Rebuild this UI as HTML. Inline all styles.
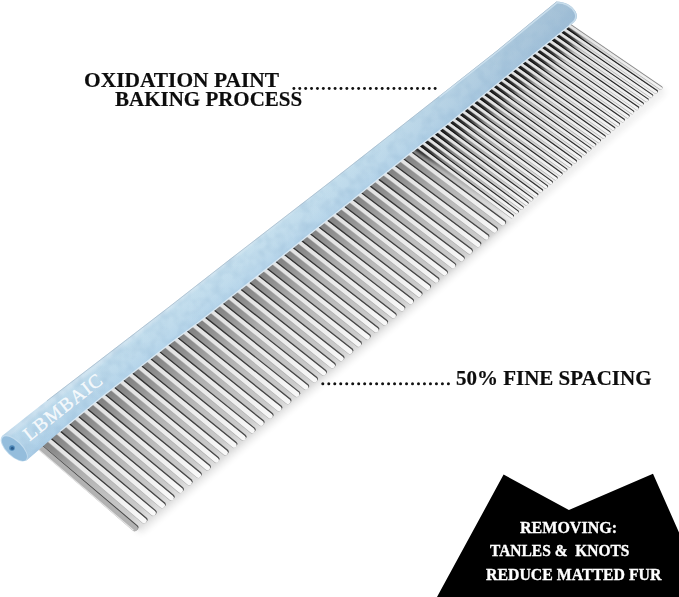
<!DOCTYPE html>
<html><head><meta charset="utf-8"><title>Comb</title>
<style>
html,body{margin:0;padding:0;background:#fff;}
body{width:679px;height:597px;position:relative;overflow:hidden;font-family:"Liberation Serif",serif;}
.t{position:absolute;white-space:nowrap;font-family:"Liberation Serif",serif;font-weight:bold;line-height:1;transform-origin:0 0;}
.k{color:#0d0d0d;font-size:21px;-webkit-text-stroke:0.2px #0d0d0d;}
.w{color:#fff;font-size:16.8px;-webkit-text-stroke:0.35px #fff;}
</style></head><body>
<svg width="679" height="597" viewBox="0 0 679 597" style="position:absolute;left:0;top:0">
<defs>
<linearGradient id="shC" gradientUnits="userSpaceOnUse" x1="304.0" y1="236.5" x2="379.9" y2="332.0"><stop offset="0" stop-color="#808080"/><stop offset="0.15" stop-color="#929292"/><stop offset="0.35" stop-color="#adadad"/><stop offset="0.6" stop-color="#bebebe"/><stop offset="0.9" stop-color="#cbcbcb"/><stop offset="1" stop-color="#dedede"/></linearGradient>
<linearGradient id="shF" gradientUnits="userSpaceOnUse" x1="304.0" y1="236.5" x2="379.9" y2="332.0"><stop offset="0" stop-color="#1a1a1a"/><stop offset="0.1" stop-color="#3a3a3a"/><stop offset="0.22" stop-color="#7c7c7c"/><stop offset="0.4" stop-color="#a6a6a6"/><stop offset="0.6" stop-color="#bcbcbc"/><stop offset="0.8" stop-color="#d2d2d2"/><stop offset="0.94" stop-color="#ececec"/><stop offset="1" stop-color="#fafafa"/></linearGradient>
<linearGradient id="dkC" gradientUnits="userSpaceOnUse" x1="304.0" y1="236.5" x2="379.9" y2="332.0"><stop offset="0" stop-color="#303030"/><stop offset="0.5" stop-color="#3c3c3c"/><stop offset="1" stop-color="#4a4a4a"/></linearGradient>
<linearGradient id="dkF" gradientUnits="userSpaceOnUse" x1="304.0" y1="236.5" x2="379.9" y2="332.0"><stop offset="0" stop-color="#101010"/><stop offset="0.3" stop-color="#1e1e1e"/><stop offset="0.7" stop-color="#2a2a2a"/><stop offset="1" stop-color="#3a3a3a"/></linearGradient>
<linearGradient id="tb" gradientUnits="userSpaceOnUse" x1="304.0" y1="236.5" x2="379.9" y2="332.0"><stop offset="0" stop-color="#e2e2e2"/><stop offset="0.35" stop-color="#e9e9e9"/><stop offset="0.75" stop-color="#f1f1f1"/><stop offset="1" stop-color="#f8f8f8"/></linearGradient>
<linearGradient id="hd" gradientUnits="userSpaceOnUse" x1="300.0" y1="204.0" x2="319.3" y2="228.3"><stop offset="0" stop-color="#d3e6f1"/><stop offset="0.12" stop-color="#c3deed"/><stop offset="0.5" stop-color="#bfdbec"/><stop offset="0.85" stop-color="#b6d5ea"/><stop offset="1" stop-color="#adcde5"/></linearGradient>
<linearGradient id="hl" gradientUnits="userSpaceOnUse" x1="0.0" y1="460.0" x2="580.0" y2="0.0"><stop offset="0" stop-color="#7fb0dc" stop-opacity="0.16"/><stop offset="0.14" stop-color="#7fb0dc" stop-opacity="0.05"/><stop offset="0.45" stop-color="#ffffff" stop-opacity="0.03"/><stop offset="0.68" stop-color="#7695b7" stop-opacity="0.04"/><stop offset="0.85" stop-color="#708fb0" stop-opacity="0.22"/><stop offset="1" stop-color="#708fb0" stop-opacity="0.38"/></linearGradient>
<linearGradient id="farL" gradientUnits="userSpaceOnUse" x1="451.4" y1="198.6" x2="607.8" y2="74.4"><stop offset="0" stop-color="#ffffff" stop-opacity="0.0"/><stop offset="0.35" stop-color="#ffffff" stop-opacity="0.25"/><stop offset="1" stop-color="#ffffff" stop-opacity="0.7"/></linearGradient>
<filter id="bl2" x="-10%" y="-10%" width="120%" height="120%"><feGaussianBlur stdDeviation="5"/></filter>
<filter id="bl3" x="-10%" y="-10%" width="120%" height="120%"><feGaussianBlur stdDeviation="3.5"/></filter>
<filter id="bl" x="-5%" y="-5%" width="110%" height="110%"><feGaussianBlur stdDeviation="1.4"/></filter>
<filter id="tx" x="0" y="0" width="100%" height="100%"><feTurbulence type="fractalNoise" baseFrequency="0.09" numOctaves="2" seed="7" result="n"/><feColorMatrix in="n" type="matrix" values="0 0 0 0 0.28  0 0 0 0 0.46  0 0 0 0 0.64  1.3 0 0 0 -0.52" result="c"/><feComposite in="c" in2="SourceGraphic" operator="in"/></filter>
</defs>
<polygon points="134.0,527.4 151.5,512.7 169.0,498.1 186.5,483.4 204.0,468.7 221.5,454.0 239.0,439.4 256.7,425.0 274.4,410.6 292.2,396.2 309.9,381.9 327.7,367.6 345.5,353.3 363.1,338.8 380.8,324.3 398.4,309.9 416.1,295.4 433.5,280.6 450.9,265.8 468.3,251.0 485.6,236.0 502.9,221.1 520.2,206.1 537.5,191.2 554.8,176.2 572.1,161.3 589.4,146.3 606.7,131.4 624.0,116.5 641.4,101.6 658.7,86.7 666.1,91.8 648.8,106.8 631.4,121.7 614.1,136.6 596.7,151.6 579.4,166.5 562.1,181.5 544.7,196.5 527.4,211.5 510.1,226.5 492.8,241.4 475.4,256.4 458.1,271.3 440.6,286.1 423.2,300.9 405.5,315.4 387.8,329.9 370.2,344.4 352.5,358.9 334.7,373.2 316.9,387.6 299.2,401.9 281.4,416.3 263.7,430.7 246.0,445.1 228.4,459.7 210.9,474.4 193.4,489.1 175.8,503.8 158.3,518.5 140.8,533.2" fill="#000" opacity="0.10" filter="url(#bl3)"/>
<polygon points="38.4,444.8 411.7,148.4 509.8,221.6 494.5,234.8 479.3,247.9 464.0,261.1 448.7,274.1 433.4,287.2 418.0,300.1 402.4,312.9 386.9,325.6 371.4,338.4 355.8,351.1 340.2,363.8 324.6,376.4 308.9,389.0 293.3,401.6 277.7,414.3 262.1,427.0 246.5,439.7 231.0,452.4 215.6,465.4 200.2,478.3 184.8,491.2 169.4,504.1 153.9,517.1 138.5,530.0" fill="url(#shC)" filter="url(#bl)"/>
<polygon points="411.7,148.4 567.0,25.0 662.1,90.2 655.7,95.7 649.4,101.2 643.0,106.6 636.7,112.1 630.3,117.5 623.9,123.0 617.6,128.5 611.2,133.9 604.9,139.4 598.5,144.9 592.2,150.3 585.8,155.8 579.5,161.3 573.2,166.8 566.8,172.2 560.5,177.7 554.1,183.2 547.8,188.7 541.5,194.2 535.1,199.7 528.8,205.1 522.4,210.6 516.1,216.1 509.8,221.6" fill="url(#shF)" filter="url(#bl)"/>
<polygon points="431.1,162.9 440.8,155.0 450.6,147.2 460.3,139.3 470.0,131.5 479.7,123.6 489.4,115.8 499.2,107.9 508.9,100.1 518.6,92.2 528.3,84.4 538.0,76.5 547.8,68.7 557.5,60.9 567.2,53.0 576.9,45.2 586.6,37.3 664.5,90.7 654.9,98.9 645.3,107.2 635.7,115.4 626.2,123.7 616.6,131.9 607.0,140.1 597.4,148.4 587.8,156.6 578.3,164.9 568.7,173.2 559.2,181.4 549.6,189.7 540.0,198.0 530.5,206.2 520.9,214.5 511.4,222.8" fill="url(#farL)" filter="url(#bl2)"/>
<g fill="url(#dkC)"><path d="M38.96,443.80L136.68,525.98A2.85,2.85 0 0 1 132.98,530.32L36.24,447.00Z" transform="translate(0.71,-0.84)"/><path d="M48.16,436.50L145.79,518.34A2.84,2.84 0 0 1 142.11,522.68L45.45,439.69Z" transform="translate(0.71,-0.84)"/><path d="M57.33,429.21L154.88,510.72A2.84,2.84 0 0 1 151.21,515.06L54.63,432.40Z" transform="translate(0.71,-0.84)"/><path d="M66.49,421.93L163.95,503.12A2.83,2.83 0 0 1 160.30,507.45L63.80,425.12Z" transform="translate(0.71,-0.84)"/><path d="M75.63,414.67L173.00,495.53A2.83,2.83 0 0 1 169.37,499.86L72.95,417.86Z" transform="translate(0.71,-0.84)"/><path d="M84.75,407.43L182.04,487.96A2.82,2.82 0 0 1 178.41,492.28L82.08,410.62Z" transform="translate(0.71,-0.84)"/><path d="M93.84,400.20L191.05,480.40A2.82,2.82 0 0 1 187.44,484.72L91.18,403.39Z" transform="translate(0.71,-0.84)"/><path d="M102.92,392.99L200.04,472.86A2.81,2.81 0 0 1 196.45,477.18L100.27,396.17Z" transform="translate(0.70,-0.85)"/><path d="M111.98,385.80L209.02,465.34A2.80,2.80 0 0 1 205.44,469.65L109.34,388.98Z" transform="translate(0.70,-0.85)"/><path d="M121.02,378.62L217.97,457.83A2.80,2.80 0 0 1 214.41,462.14L118.39,381.79Z" transform="translate(0.70,-0.85)"/><path d="M130.04,371.45L226.91,450.34A2.79,2.79 0 0 1 223.36,454.65L127.42,374.63Z" transform="translate(0.70,-0.85)"/><path d="M139.04,364.30L235.82,442.86A2.79,2.79 0 0 1 232.29,447.17L136.43,367.48Z" transform="translate(0.70,-0.85)"/><path d="M148.02,357.17L244.82,435.54A2.78,2.78 0 0 1 241.30,439.84L145.42,360.34Z" transform="translate(0.70,-0.85)"/><path d="M156.98,350.05L253.81,428.24A2.77,2.77 0 0 1 250.29,432.54L154.39,353.22Z" transform="translate(0.70,-0.85)"/><path d="M165.93,342.95L262.77,420.96A2.77,2.77 0 0 1 259.27,425.25L163.35,346.11Z" transform="translate(0.70,-0.85)"/><path d="M174.85,335.86L271.72,413.69A2.76,2.76 0 0 1 268.23,417.98L172.28,339.02Z" transform="translate(0.69,-0.85)"/><path d="M183.75,328.79L280.64,406.44A2.76,2.76 0 0 1 277.17,410.72L181.19,331.95Z" transform="translate(0.69,-0.85)"/><path d="M192.64,321.73L289.55,399.20A2.75,2.75 0 0 1 286.09,403.48L190.08,324.89Z" transform="translate(0.69,-0.86)"/><path d="M201.50,314.69L298.45,391.99A2.75,2.75 0 0 1 295.00,396.27L198.96,317.84Z" transform="translate(0.69,-0.86)"/><path d="M210.35,307.66L307.35,384.83A2.74,2.74 0 0 1 303.91,389.10L207.81,310.81Z" transform="translate(0.69,-0.86)"/><path d="M219.18,300.65L316.23,377.68A2.74,2.74 0 0 1 312.80,381.94L216.65,303.80Z" transform="translate(0.69,-0.86)"/><path d="M227.99,293.65L325.09,370.54A2.73,2.73 0 0 1 321.67,374.80L225.47,296.80Z" transform="translate(0.69,-0.86)"/><path d="M236.78,286.67L333.93,363.42A2.72,2.72 0 0 1 330.53,367.68L234.27,289.81Z" transform="translate(0.69,-0.86)"/><path d="M245.55,279.71L342.75,356.32A2.72,2.72 0 0 1 339.36,360.57L243.05,282.84Z" transform="translate(0.69,-0.86)"/><path d="M254.30,272.76L351.53,349.20A2.71,2.71 0 0 1 348.15,353.45L251.81,275.89Z" transform="translate(0.68,-0.86)"/><path d="M263.03,265.82L360.25,342.05A2.71,2.71 0 0 1 356.89,346.29L260.55,268.95Z" transform="translate(0.68,-0.86)"/><path d="M271.74,258.90L368.96,334.91A2.70,2.70 0 0 1 365.61,339.15L269.27,262.02Z" transform="translate(0.68,-0.86)"/><path d="M280.44,251.99L377.65,327.79A2.70,2.70 0 0 1 374.31,332.02L277.98,255.12Z" transform="translate(0.68,-0.86)"/><path d="M289.12,245.10L386.32,320.68A2.69,2.69 0 0 1 382.99,324.91L286.66,248.22Z" transform="translate(0.68,-0.86)"/><path d="M297.77,238.22L394.97,313.59A2.69,2.69 0 0 1 391.65,317.81L295.33,241.34Z" transform="translate(0.68,-0.87)"/><path d="M306.41,231.36L403.60,306.51A2.68,2.68 0 0 1 400.30,310.73L303.98,234.48Z" transform="translate(0.68,-0.87)"/><path d="M315.03,224.52L412.21,299.45A2.67,2.67 0 0 1 408.92,303.67L312.60,227.63Z" transform="translate(0.68,-0.87)"/><path d="M323.63,217.68L420.81,292.41A2.67,2.67 0 0 1 417.53,296.62L321.21,220.79Z" transform="translate(0.68,-0.87)"/><path d="M332.22,210.87L429.28,285.24A2.66,2.66 0 0 1 426.02,289.45L329.81,213.97Z" transform="translate(0.67,-0.87)"/><path d="M340.78,204.06L437.71,278.06A2.66,2.66 0 0 1 434.46,282.27L338.38,207.17Z" transform="translate(0.67,-0.87)"/><path d="M349.32,197.27L446.13,270.90A2.65,2.65 0 0 1 442.90,275.10L346.94,200.38Z" transform="translate(0.67,-0.87)"/><path d="M357.85,190.50L454.53,263.75A2.65,2.65 0 0 1 451.31,267.95L355.47,193.60Z" transform="translate(0.67,-0.87)"/><path d="M366.36,183.74L462.91,256.61A2.64,2.64 0 0 1 459.70,260.81L363.99,186.84Z" transform="translate(0.67,-0.87)"/><path d="M374.85,177.00L471.23,249.44A2.64,2.64 0 0 1 468.04,253.64L372.49,180.09Z" transform="translate(0.67,-0.88)"/><path d="M383.32,170.27L479.53,242.28A2.63,2.63 0 0 1 476.36,246.48L380.98,173.36Z" transform="translate(0.66,-0.88)"/><path d="M391.78,163.55L487.81,235.14A2.63,2.63 0 0 1 484.65,239.33L389.44,166.64Z" transform="translate(0.66,-0.88)"/><path d="M400.21,156.85L496.08,228.00A2.62,2.62 0 0 1 492.93,232.19L397.89,159.94Z" transform="translate(0.66,-0.88)"/><path d="M408.63,150.16L504.32,220.89A2.61,2.61 0 0 1 501.19,225.08L406.31,153.25Z" transform="translate(0.66,-0.88)"/></g>
<g fill="url(#dkF)"><path d="M416.78,143.82L512.74,215.12A1.65,1.65 0 0 1 510.77,217.77L414.97,146.25Z" transform="translate(0.54,-0.72)"/><path d="M421.77,139.85L517.63,210.89A1.65,1.65 0 0 1 515.66,213.54L419.97,142.28Z" transform="translate(0.54,-0.72)"/><path d="M426.76,135.89L522.51,206.67A1.65,1.65 0 0 1 520.55,209.32L424.96,138.32Z" transform="translate(0.54,-0.72)"/><path d="M431.74,131.93L527.39,202.45A1.65,1.65 0 0 1 525.43,205.10L429.95,134.36Z" transform="translate(0.53,-0.72)"/><path d="M436.72,127.98L532.26,198.24A1.65,1.65 0 0 1 530.31,200.89L434.92,130.41Z" transform="translate(0.53,-0.72)"/><path d="M441.68,124.04L537.13,194.04A1.64,1.64 0 0 1 535.18,196.68L439.90,126.47Z" transform="translate(0.53,-0.73)"/><path d="M446.64,120.09L541.98,189.84A1.64,1.64 0 0 1 540.04,192.48L444.86,122.52Z" transform="translate(0.53,-0.73)"/><path d="M451.60,116.16L546.84,185.64A1.64,1.64 0 0 1 544.90,188.29L449.82,118.59Z" transform="translate(0.53,-0.73)"/><path d="M456.55,112.23L551.68,181.45A1.64,1.64 0 0 1 549.75,184.10L454.78,114.65Z" transform="translate(0.53,-0.73)"/><path d="M461.49,108.30L556.52,177.27A1.64,1.64 0 0 1 554.60,179.91L459.73,110.73Z" transform="translate(0.53,-0.73)"/><path d="M466.43,104.38L561.35,173.09A1.63,1.63 0 0 1 559.43,175.73L464.67,106.81Z" transform="translate(0.53,-0.73)"/><path d="M471.36,100.46L566.18,168.91A1.63,1.63 0 0 1 564.27,171.56L469.60,102.89Z" transform="translate(0.53,-0.73)"/><path d="M476.28,96.55L571.00,164.75A1.63,1.63 0 0 1 569.09,167.39L474.53,98.98Z" transform="translate(0.53,-0.73)"/><path d="M481.20,92.65L575.81,160.58A1.63,1.63 0 0 1 573.91,163.22L479.45,95.07Z" transform="translate(0.53,-0.73)"/><path d="M486.11,88.75L580.62,156.42A1.63,1.63 0 0 1 578.73,159.07L484.37,91.17Z" transform="translate(0.52,-0.73)"/><path d="M491.01,84.85L585.43,152.28A1.62,1.62 0 0 1 583.54,154.92L489.28,87.27Z" transform="translate(0.52,-0.73)"/><path d="M495.91,80.96L590.23,148.15A1.62,1.62 0 0 1 588.35,150.79L494.18,83.38Z" transform="translate(0.52,-0.73)"/><path d="M500.80,77.07L595.03,144.02A1.62,1.62 0 0 1 593.15,146.66L499.08,79.50Z" transform="translate(0.52,-0.73)"/><path d="M505.69,73.19L599.83,139.90A1.62,1.62 0 0 1 597.95,142.53L503.97,75.61Z" transform="translate(0.52,-0.73)"/><path d="M510.56,69.32L604.61,135.78A1.62,1.62 0 0 1 602.75,138.42L508.85,71.74Z" transform="translate(0.52,-0.73)"/><path d="M515.44,65.45L609.40,131.67A1.61,1.61 0 0 1 607.53,134.30L513.73,67.87Z" transform="translate(0.52,-0.74)"/><path d="M520.30,61.58L614.17,127.56A1.61,1.61 0 0 1 612.31,130.20L518.60,64.00Z" transform="translate(0.52,-0.74)"/><path d="M525.16,57.72L618.94,123.46A1.61,1.61 0 0 1 617.09,126.09L523.47,60.14Z" transform="translate(0.52,-0.74)"/><path d="M530.02,53.86L623.70,119.36A1.61,1.61 0 0 1 621.86,122.00L528.32,56.28Z" transform="translate(0.52,-0.74)"/><path d="M534.87,50.01L628.46,115.27A1.61,1.61 0 0 1 626.62,117.91L533.18,52.43Z" transform="translate(0.52,-0.74)"/><path d="M539.71,46.17L633.21,111.19A1.61,1.61 0 0 1 631.38,113.82L538.02,48.58Z" transform="translate(0.51,-0.74)"/><path d="M544.54,42.33L637.96,107.11A1.60,1.60 0 0 1 636.13,109.74L542.86,44.74Z" transform="translate(0.51,-0.74)"/><path d="M549.37,38.49L642.69,103.03A1.60,1.60 0 0 1 640.87,105.66L547.70,40.90Z" transform="translate(0.51,-0.74)"/><path d="M554.20,34.66L647.43,98.96A1.60,1.60 0 0 1 645.61,101.59L552.53,37.07Z" transform="translate(0.51,-0.74)"/><path d="M559.01,30.83L652.15,94.90A1.60,1.60 0 0 1 650.34,97.53L557.35,33.25Z" transform="translate(0.51,-0.74)"/><path d="M563.82,27.01L656.87,90.84A1.60,1.60 0 0 1 655.06,93.47L562.16,29.42Z" transform="translate(0.51,-0.74)"/></g>
<path d="M568.63,23.19L661.59,86.78A1.59,1.59 0 0 1 659.78,89.41L566.97,25.61Z" fill="#8c8c8c" transform="translate(0.34,-0.49)"/>
<g fill="#b0b0b0"><path d="M38.86,443.92L136.69,526.19A2.70,2.70 0 0 1 133.19,530.31L36.34,446.88Z" transform="translate(-0.32,0.38)"/><path d="M48.06,436.61L145.81,518.56A2.69,2.69 0 0 1 142.32,522.66L45.54,439.58Z" transform="translate(-0.32,0.38)"/><path d="M57.24,429.32L154.90,510.93A2.69,2.69 0 0 1 151.42,515.04L54.73,432.28Z" transform="translate(-0.32,0.38)"/><path d="M66.39,422.05L163.97,503.33A2.68,2.68 0 0 1 160.51,507.43L63.90,425.01Z" transform="translate(-0.32,0.38)"/><path d="M75.53,414.79L173.02,495.74A2.68,2.68 0 0 1 169.58,499.84L73.04,417.75Z" transform="translate(-0.32,0.38)"/><path d="M84.65,407.55L182.05,488.17A2.67,2.67 0 0 1 178.62,492.26L82.17,410.50Z" transform="translate(-0.32,0.38)"/><path d="M93.75,400.32L191.07,480.61A2.67,2.67 0 0 1 187.65,484.70L91.28,403.27Z" transform="translate(-0.32,0.38)"/><path d="M102.83,393.11L200.06,473.07A2.66,2.66 0 0 1 196.66,477.16L100.37,396.06Z" transform="translate(-0.32,0.38)"/><path d="M111.88,385.91L209.04,465.55A2.65,2.65 0 0 1 205.65,469.63L109.44,388.86Z" transform="translate(-0.32,0.38)"/><path d="M120.92,378.73L217.99,458.04A2.65,2.65 0 0 1 214.62,462.12L118.49,381.68Z" transform="translate(-0.32,0.39)"/><path d="M129.94,371.57L226.93,450.55A2.64,2.64 0 0 1 223.57,454.63L127.52,374.51Z" transform="translate(-0.32,0.39)"/><path d="M138.94,364.42L235.84,443.08A2.64,2.64 0 0 1 232.50,447.15L136.53,367.36Z" transform="translate(-0.32,0.39)"/><path d="M147.93,357.28L244.84,435.75A2.63,2.63 0 0 1 241.51,439.82L145.52,360.22Z" transform="translate(-0.32,0.39)"/><path d="M156.89,350.17L253.83,428.45A2.62,2.62 0 0 1 250.50,432.52L154.49,353.10Z" transform="translate(-0.32,0.39)"/><path d="M165.83,343.06L262.79,421.17A2.62,2.62 0 0 1 259.48,425.23L163.44,346.00Z" transform="translate(-0.32,0.39)"/><path d="M174.75,335.98L271.74,413.90A2.61,2.61 0 0 1 268.44,417.95L172.37,338.90Z" transform="translate(-0.32,0.39)"/><path d="M183.66,328.90L280.66,406.65A2.61,2.61 0 0 1 277.38,410.70L181.29,331.83Z" transform="translate(-0.31,0.39)"/><path d="M192.54,321.85L289.57,399.41A2.60,2.60 0 0 1 286.30,403.46L190.18,324.77Z" transform="translate(-0.31,0.39)"/><path d="M201.41,314.80L298.47,392.20A2.60,2.60 0 0 1 295.21,396.25L199.05,317.72Z" transform="translate(-0.31,0.39)"/><path d="M210.26,307.78L307.37,385.04A2.59,2.59 0 0 1 304.12,389.07L207.91,310.69Z" transform="translate(-0.31,0.39)"/><path d="M219.08,300.77L316.25,377.89A2.59,2.59 0 0 1 313.01,381.92L216.75,303.68Z" transform="translate(-0.31,0.39)"/><path d="M227.89,293.77L325.11,370.75A2.58,2.58 0 0 1 321.88,374.78L225.56,296.68Z" transform="translate(-0.31,0.39)"/><path d="M236.68,286.79L333.95,363.63A2.57,2.57 0 0 1 330.74,367.65L234.36,289.69Z" transform="translate(-0.31,0.39)"/><path d="M245.45,279.82L342.77,356.53A2.57,2.57 0 0 1 339.57,360.55L243.14,282.73Z" transform="translate(-0.31,0.39)"/><path d="M254.20,272.87L351.55,349.41A2.56,2.56 0 0 1 348.36,353.42L251.90,275.77Z" transform="translate(-0.31,0.39)"/><path d="M262.94,265.94L360.28,342.26A2.56,2.56 0 0 1 357.10,346.26L260.64,268.83Z" transform="translate(-0.31,0.39)"/><path d="M271.65,259.02L368.99,335.12A2.55,2.55 0 0 1 365.82,339.12L269.36,261.91Z" transform="translate(-0.31,0.39)"/><path d="M280.35,252.11L377.67,328.00A2.55,2.55 0 0 1 374.52,332.00L278.07,255.00Z" transform="translate(-0.31,0.39)"/><path d="M289.02,245.22L386.34,320.89A2.54,2.54 0 0 1 383.20,324.88L286.75,248.10Z" transform="translate(-0.31,0.39)"/><path d="M297.68,238.34L394.99,313.80A2.54,2.54 0 0 1 391.86,317.79L295.42,241.22Z" transform="translate(-0.31,0.39)"/><path d="M306.32,231.48L403.62,306.72A2.53,2.53 0 0 1 400.51,310.71L304.07,234.36Z" transform="translate(-0.31,0.39)"/><path d="M314.94,224.63L412.24,299.66A2.52,2.52 0 0 1 409.13,303.64L312.70,227.51Z" transform="translate(-0.31,0.39)"/><path d="M323.54,217.80L420.83,292.62A2.52,2.52 0 0 1 417.74,296.59L321.31,220.67Z" transform="translate(-0.31,0.39)"/><path d="M332.12,210.98L429.31,285.45A2.51,2.51 0 0 1 426.23,289.42L329.90,213.85Z" transform="translate(-0.31,0.40)"/><path d="M340.69,204.18L437.74,278.27A2.51,2.51 0 0 1 434.68,282.24L338.47,207.05Z" transform="translate(-0.31,0.40)"/><path d="M349.23,197.39L446.16,271.11A2.50,2.50 0 0 1 443.11,275.07L347.03,200.26Z" transform="translate(-0.30,0.40)"/><path d="M357.76,190.62L454.56,263.96A2.50,2.50 0 0 1 451.52,267.92L355.57,193.48Z" transform="translate(-0.30,0.40)"/><path d="M366.27,183.86L462.94,256.82A2.49,2.49 0 0 1 459.91,260.78L364.08,186.72Z" transform="translate(-0.30,0.40)"/><path d="M374.76,177.12L471.26,249.66A2.49,2.49 0 0 1 468.25,253.61L372.59,179.97Z" transform="translate(-0.30,0.40)"/><path d="M383.23,170.39L479.56,242.49A2.48,2.48 0 0 1 476.57,246.45L381.07,173.24Z" transform="translate(-0.30,0.40)"/><path d="M391.68,163.67L487.84,235.35A2.48,2.48 0 0 1 484.86,239.30L389.53,166.52Z" transform="translate(-0.30,0.40)"/><path d="M400.12,156.97L496.11,228.21A2.47,2.47 0 0 1 493.14,232.16L397.98,159.82Z" transform="translate(-0.30,0.40)"/><path d="M408.54,150.28L504.35,221.10A2.46,2.46 0 0 1 501.40,225.05L406.40,153.13Z" transform="translate(-0.30,0.40)"/><path d="M416.69,143.94L512.77,215.33A1.50,1.50 0 0 1 510.98,217.74L415.06,146.13Z" transform="translate(-0.30,0.40)"/><path d="M421.68,139.97L517.66,211.10A1.50,1.50 0 0 1 515.87,213.51L420.06,142.16Z" transform="translate(-0.30,0.40)"/><path d="M426.67,136.01L522.55,206.88A1.50,1.50 0 0 1 520.76,209.29L425.05,138.20Z" transform="translate(-0.30,0.40)"/><path d="M431.65,132.05L527.42,202.66A1.50,1.50 0 0 1 525.64,205.07L430.03,134.24Z" transform="translate(-0.30,0.40)"/><path d="M436.63,128.10L532.29,198.45A1.50,1.50 0 0 1 530.52,200.86L435.01,130.29Z" transform="translate(-0.30,0.40)"/><path d="M441.59,124.16L537.16,194.25A1.49,1.49 0 0 1 535.39,196.65L439.99,126.34Z" transform="translate(-0.30,0.40)"/><path d="M446.56,120.22L542.02,190.05A1.49,1.49 0 0 1 540.25,192.45L444.95,122.40Z" transform="translate(-0.30,0.40)"/><path d="M451.51,116.28L546.87,185.85A1.49,1.49 0 0 1 545.11,188.25L449.91,118.47Z" transform="translate(-0.30,0.40)"/><path d="M456.46,112.35L551.71,181.66A1.49,1.49 0 0 1 549.96,184.06L454.87,114.53Z" transform="translate(-0.29,0.40)"/><path d="M461.40,108.42L556.55,177.48A1.49,1.49 0 0 1 554.81,179.88L459.81,110.61Z" transform="translate(-0.29,0.40)"/><path d="M466.34,104.50L561.39,173.30A1.48,1.48 0 0 1 559.64,175.70L464.75,106.69Z" transform="translate(-0.29,0.40)"/><path d="M471.27,100.59L566.21,169.12A1.48,1.48 0 0 1 564.48,171.52L469.69,102.77Z" transform="translate(-0.29,0.41)"/><path d="M476.19,96.68L571.03,164.95A1.48,1.48 0 0 1 569.30,167.35L474.62,98.86Z" transform="translate(-0.29,0.41)"/><path d="M481.11,92.77L575.85,160.79A1.48,1.48 0 0 1 574.12,163.19L479.54,94.95Z" transform="translate(-0.29,0.41)"/><path d="M486.02,88.87L580.66,156.63A1.48,1.48 0 0 1 578.94,159.03L484.45,91.05Z" transform="translate(-0.29,0.41)"/><path d="M490.92,84.97L585.46,152.49A1.47,1.47 0 0 1 583.75,154.88L489.36,87.15Z" transform="translate(-0.29,0.41)"/><path d="M495.82,81.08L590.27,148.35A1.47,1.47 0 0 1 588.56,150.75L494.27,83.26Z" transform="translate(-0.29,0.41)"/><path d="M500.71,77.20L595.07,144.23A1.47,1.47 0 0 1 593.36,146.62L499.16,79.37Z" transform="translate(-0.29,0.41)"/><path d="M505.60,73.32L599.86,140.10A1.47,1.47 0 0 1 598.16,142.50L504.05,75.49Z" transform="translate(-0.29,0.41)"/><path d="M510.48,69.44L604.65,135.99A1.47,1.47 0 0 1 602.96,138.38L508.94,71.62Z" transform="translate(-0.29,0.41)"/><path d="M515.35,65.57L609.43,131.88A1.46,1.46 0 0 1 607.74,134.27L513.81,67.74Z" transform="translate(-0.29,0.41)"/><path d="M520.22,61.70L614.21,127.77A1.46,1.46 0 0 1 612.52,130.16L518.69,63.88Z" transform="translate(-0.29,0.41)"/><path d="M525.08,57.84L618.98,123.67A1.46,1.46 0 0 1 617.30,126.06L523.55,60.02Z" transform="translate(-0.29,0.41)"/><path d="M529.93,53.99L623.74,119.57A1.46,1.46 0 0 1 622.07,121.96L528.41,56.16Z" transform="translate(-0.29,0.41)"/><path d="M534.78,50.14L628.50,115.48A1.46,1.46 0 0 1 626.83,117.87L533.26,52.31Z" transform="translate(-0.29,0.41)"/><path d="M539.62,46.29L633.25,111.40A1.46,1.46 0 0 1 631.58,113.78L538.11,48.46Z" transform="translate(-0.29,0.41)"/><path d="M544.46,42.45L637.99,107.32A1.45,1.45 0 0 1 636.33,109.70L542.95,44.62Z" transform="translate(-0.29,0.41)"/><path d="M549.29,38.61L642.73,103.24A1.45,1.45 0 0 1 641.08,105.63L547.78,40.78Z" transform="translate(-0.28,0.41)"/><path d="M554.11,34.78L647.46,99.17A1.45,1.45 0 0 1 645.82,101.55L552.61,36.95Z" transform="translate(-0.28,0.41)"/><path d="M558.93,30.96L652.19,95.11A1.45,1.45 0 0 1 650.55,97.49L557.43,33.12Z" transform="translate(-0.28,0.41)"/><path d="M563.74,27.13L656.91,91.05A1.45,1.45 0 0 1 655.27,93.43L562.25,29.30Z" transform="translate(-0.28,0.41)"/><path d="M568.54,23.32L661.63,86.99A1.44,1.44 0 0 1 659.99,89.37L567.06,25.48Z" transform="translate(-0.28,0.41)"/></g>
<g fill="url(#tb)"><path d="M48.00,436.69L145.82,518.70A2.59,2.59 0 0 1 142.46,522.65L45.61,439.50Z"/><path d="M57.17,429.40L154.91,511.08A2.59,2.59 0 0 1 151.57,515.03L54.79,432.21Z"/><path d="M66.33,422.12L163.98,503.47A2.58,2.58 0 0 1 160.65,507.42L63.96,424.93Z"/><path d="M75.47,414.86L173.03,495.88A2.58,2.58 0 0 1 169.72,499.83L73.11,417.67Z"/><path d="M84.59,407.62L182.07,488.31A2.57,2.57 0 0 1 178.77,492.25L82.24,410.43Z"/><path d="M93.68,400.40L191.08,480.75A2.57,2.57 0 0 1 187.79,484.69L91.34,403.20Z"/><path d="M102.76,393.18L200.07,473.21A2.56,2.56 0 0 1 196.80,477.15L100.43,395.98Z"/><path d="M111.82,385.99L209.05,465.69A2.55,2.55 0 0 1 205.79,469.62L109.50,388.78Z"/><path d="M120.86,378.81L218.01,458.18A2.55,2.55 0 0 1 214.76,462.11L118.55,381.60Z"/><path d="M129.88,371.64L226.94,450.69A2.54,2.54 0 0 1 223.71,454.61L127.58,374.43Z"/><path d="M138.88,364.49L235.86,443.22A2.54,2.54 0 0 1 232.64,447.14L136.59,367.28Z"/><path d="M147.86,357.36L244.86,435.89A2.53,2.53 0 0 1 241.65,439.81L145.58,360.15Z"/><path d="M156.82,350.24L253.84,428.59A2.52,2.52 0 0 1 250.64,432.50L154.55,353.02Z"/><path d="M165.77,343.14L262.81,421.31A2.52,2.52 0 0 1 259.62,425.21L163.50,345.92Z"/><path d="M174.69,336.05L271.75,414.04A2.51,2.51 0 0 1 268.58,417.94L172.44,338.83Z"/><path d="M183.60,328.98L280.68,406.79A2.51,2.51 0 0 1 277.52,410.68L181.35,331.75Z"/><path d="M192.48,321.92L289.59,399.55A2.50,2.50 0 0 1 286.44,403.44L190.24,324.69Z"/><path d="M201.35,314.88L298.49,392.34A2.50,2.50 0 0 1 295.35,396.23L199.12,317.65Z"/><path d="M210.19,307.86L307.39,385.18A2.49,2.49 0 0 1 304.26,389.06L207.97,310.62Z"/><path d="M219.02,300.85L316.27,378.03A2.49,2.49 0 0 1 313.15,381.90L216.81,303.60Z"/><path d="M227.83,293.85L325.13,370.89A2.48,2.48 0 0 1 322.02,374.76L225.62,296.60Z"/><path d="M236.62,286.87L333.97,363.77A2.47,2.47 0 0 1 330.88,367.64L234.42,289.62Z"/><path d="M245.39,279.90L342.79,356.67A2.47,2.47 0 0 1 339.71,360.53L243.20,282.65Z"/><path d="M254.14,272.95L351.57,349.55A2.46,2.46 0 0 1 348.50,353.41L251.96,275.69Z"/><path d="M262.88,266.02L360.30,342.40A2.46,2.46 0 0 1 357.24,346.25L260.70,268.75Z"/><path d="M271.59,259.10L369.00,335.26A2.45,2.45 0 0 1 365.96,339.11L269.43,261.83Z"/><path d="M280.28,252.19L377.69,328.14A2.45,2.45 0 0 1 374.66,331.98L278.13,254.92Z"/><path d="M288.96,245.30L386.36,321.03A2.44,2.44 0 0 1 383.34,324.87L286.82,248.02Z"/><path d="M297.62,238.42L395.01,313.94A2.44,2.44 0 0 1 392.00,317.77L295.48,241.15Z"/><path d="M306.26,231.56L403.64,306.86A2.43,2.43 0 0 1 400.65,310.69L304.13,234.28Z"/><path d="M314.88,224.71L412.25,299.80A2.42,2.42 0 0 1 409.27,303.63L312.76,227.43Z"/><path d="M323.48,217.88L420.85,292.76A2.42,2.42 0 0 1 417.88,296.57L321.37,220.59Z"/><path d="M332.06,211.06L429.32,285.59A2.41,2.41 0 0 1 426.37,289.40L329.96,213.77Z"/><path d="M340.63,204.26L437.76,278.41A2.41,2.41 0 0 1 434.82,282.22L338.53,206.97Z"/><path d="M349.17,197.47L446.18,271.25A2.40,2.40 0 0 1 443.25,275.05L347.09,200.18Z"/><path d="M357.70,190.70L454.58,264.10A2.40,2.40 0 0 1 451.66,267.90L355.63,193.40Z"/><path d="M366.21,183.94L462.96,256.96A2.39,2.39 0 0 1 460.05,260.77L364.15,186.64Z"/><path d="M374.70,177.20L471.28,249.80A2.39,2.39 0 0 1 468.39,253.59L372.65,179.89Z"/><path d="M383.17,170.47L479.58,242.63A2.38,2.38 0 0 1 476.71,246.43L381.13,173.16Z"/><path d="M391.62,163.75L487.86,235.49A2.38,2.38 0 0 1 485.00,239.28L389.59,166.44Z"/><path d="M400.06,157.05L496.13,228.35A2.37,2.37 0 0 1 493.28,232.14L398.04,159.74Z"/><path d="M408.48,150.36L504.37,221.24A2.36,2.36 0 0 1 501.54,225.03L406.46,153.05Z"/><path d="M416.63,144.02L512.79,215.47A1.40,1.40 0 0 1 511.12,217.72L415.12,146.05Z"/><path d="M421.62,140.05L517.68,211.24A1.40,1.40 0 0 1 516.01,213.49L420.12,142.08Z"/><path d="M426.61,136.09L522.57,207.02A1.40,1.40 0 0 1 520.90,209.27L425.11,138.12Z"/><path d="M431.59,132.13L527.44,202.80A1.40,1.40 0 0 1 525.78,205.05L430.09,134.16Z"/><path d="M436.57,128.18L532.31,198.59A1.40,1.40 0 0 1 530.66,200.84L435.07,130.21Z"/><path d="M441.54,124.24L537.18,194.39A1.39,1.39 0 0 1 535.53,196.63L440.05,126.26Z"/><path d="M446.50,120.30L542.04,190.18A1.39,1.39 0 0 1 540.39,192.43L445.01,122.32Z"/><path d="M451.45,116.36L546.89,185.99A1.39,1.39 0 0 1 545.25,188.23L449.97,118.38Z"/><path d="M456.40,112.43L551.74,181.80A1.39,1.39 0 0 1 550.10,184.04L454.93,114.45Z"/><path d="M461.34,108.50L556.57,177.62A1.39,1.39 0 0 1 554.94,179.86L459.87,110.53Z"/><path d="M466.28,104.58L561.41,173.44A1.38,1.38 0 0 1 559.78,175.68L464.81,106.60Z"/><path d="M471.21,100.67L566.24,169.26A1.38,1.38 0 0 1 564.62,171.50L469.75,102.69Z"/><path d="M476.13,96.76L571.06,165.09A1.38,1.38 0 0 1 569.44,167.33L474.68,98.78Z"/><path d="M481.05,92.85L575.87,160.93A1.38,1.38 0 0 1 574.26,163.17L479.60,94.87Z"/><path d="M485.96,88.95L580.68,156.77A1.38,1.38 0 0 1 579.07,159.01L484.51,90.97Z"/><path d="M490.87,85.05L585.49,152.63A1.37,1.37 0 0 1 583.89,154.86L489.42,87.07Z"/><path d="M495.76,81.16L590.29,148.49A1.37,1.37 0 0 1 588.70,150.73L494.32,83.18Z"/><path d="M500.66,77.28L595.09,144.37A1.37,1.37 0 0 1 593.50,146.60L499.22,79.29Z"/><path d="M505.54,73.40L599.89,140.24A1.37,1.37 0 0 1 598.30,142.47L504.11,75.41Z"/><path d="M510.42,69.52L604.67,136.13A1.37,1.37 0 0 1 603.09,138.36L508.99,71.53Z"/><path d="M515.29,65.65L609.46,132.01A1.36,1.36 0 0 1 607.88,134.24L513.87,67.66Z"/><path d="M520.16,61.79L614.23,127.91A1.36,1.36 0 0 1 612.66,130.14L518.74,63.80Z"/><path d="M525.02,57.92L619.00,123.81A1.36,1.36 0 0 1 617.44,126.03L523.61,59.93Z"/><path d="M529.88,54.07L623.76,119.71A1.36,1.36 0 0 1 622.20,121.94L528.47,56.08Z"/><path d="M534.72,50.22L628.52,115.62A1.36,1.36 0 0 1 626.97,117.84L533.32,52.22Z"/><path d="M539.57,46.37L633.27,111.53A1.36,1.36 0 0 1 631.72,113.76L538.17,48.38Z"/><path d="M544.40,42.53L638.02,107.45A1.35,1.35 0 0 1 636.47,109.68L543.01,44.54Z"/><path d="M549.23,38.69L642.76,103.38A1.35,1.35 0 0 1 641.22,105.60L547.84,40.70Z"/><path d="M554.05,34.86L647.49,99.31A1.35,1.35 0 0 1 645.95,101.53L552.67,36.87Z"/><path d="M558.87,31.04L652.22,95.25A1.35,1.35 0 0 1 650.69,97.46L557.49,33.04Z"/><path d="M563.68,27.22L656.94,91.19A1.35,1.35 0 0 1 655.41,93.40L562.31,29.22Z"/><path d="M568.49,23.40L661.65,87.13A1.34,1.34 0 0 1 660.13,89.35L567.11,25.40Z"/></g>
<path d="M39.41,443.27L136.68,526.05A2.80,2.80 0 0 1 133.05,530.32L35.79,447.53Z" fill="#b2b2b2"/><path d="M39.41,443.27L136.68,526.05A2.80,2.80 0 0 1 133.05,530.32L35.79,447.53Z" fill="#8a8a8a" transform="translate(0.45,-0.53)" opacity="0"/><line x1="35.91" y1="447.38" x2="133.44" y2="530.23" stroke="#e4e4e4" stroke-width="1.1"/>
<path d="M2,436 L46.9,400.5 L100,359.8 L168,307.5 L228.8,260 L330,181.8 L360,158.3 L440,95.4 L497.7,50 L530,23.3 L556.6,1.5 C564,1.5 572,5 575.7,11.8 C578.5,17 576,22 570,25.3 L570,25.3 L520,65.3 L453,120 L410,153.6 L352.4,200 L270,266 L200,321.3 L170,343.5 L100,398.6 L60,431.5 L26.8,460.2 C20,463 8,455 3,446 C1,441 1,438 2,436 Z" fill="url(#hd)"/>
<path d="M2,436 L46.9,400.5 L100,359.8 L168,307.5 L228.8,260 L330,181.8 L360,158.3 L440,95.4 L497.7,50 L530,23.3 L556.6,1.5 C564,1.5 572,5 575.7,11.8 C578.5,17 576,22 570,25.3 L570,25.3 L520,65.3 L453,120 L410,153.6 L352.4,200 L270,266 L200,321.3 L170,343.5 L100,398.6 L60,431.5 L26.8,460.2 C20,463 8,455 3,446 C1,441 1,438 2,436 Z" fill="url(#hl)"/>
<path d="M2,436 L46.9,400.5 L100,359.8 L168,307.5 L228.8,260 L330,181.8 L360,158.3 L440,95.4 L497.7,50 L530,23.3 L556.6,1.5 C564,1.5 572,5 575.7,11.8 C578.5,17 576,22 570,25.3 L570,25.3 L520,65.3 L453,120 L410,153.6 L352.4,200 L270,266 L200,321.3 L170,343.5 L100,398.6 L60,431.5 L26.8,460.2 C20,463 8,455 3,446 C1,441 1,438 2,436 Z" fill="#fff" filter="url(#tx)" opacity="0.55"/>
<polyline points="46.9,400.9 100,360.2 168,307.9 228.8,260.4 330,182.20000000000002 360,158.70000000000002 440,95.80000000000001 497.7,50.4 530,23.7 556.6,1.9" fill="none" stroke="#9fb4c4" stroke-width="0.8" opacity="0.8"/>
<polyline points="60,431.5 100,398.6 170,343.5 200,321.3 270,266 352.4,200 410,153.6 453,120 520,65.3 570,25.3" fill="none" stroke="#dcebf6" stroke-width="1.3" opacity="0.95"/>
<path d="M440,96.9 L497.7,51.5 L530,24.8 L556.9,2.8 C564,2.6 571.3,5.8 574.7,12.2 C577.2,17 575.2,21.3 570,24.5" fill="none" stroke="#d3e5f1" stroke-width="1.5" opacity="0.75" stroke-linecap="round"/>
<ellipse cx="14.2" cy="448.2" rx="17" ry="8.2" transform="rotate(44 14.2 448.2)" fill="#c3dcee"/>
<ellipse cx="14.4" cy="448.6" rx="16" ry="7.2" transform="rotate(44 14.4 448.6)" fill="#94bddc"/>
<circle cx="12" cy="448" r="2.8" fill="#4c86b6"/>
<circle cx="12.3" cy="448.3" r="1.5" fill="#2a5c8c"/>
<text x="0" y="0" transform="translate(29.4,441.4) rotate(-38.3)" font-family="Liberation Serif, serif" font-size="19.3" fill="#ffffff" fill-opacity="0.86" stroke="#fff" stroke-width="0.45" stroke-opacity="0.6" letter-spacing="1.15">LBMBAIC</text>
<circle cx="293.90" cy="88.5" r="1.45" fill="#111"/>
<circle cx="299.78" cy="88.5" r="1.45" fill="#111"/>
<circle cx="305.67" cy="88.5" r="1.45" fill="#111"/>
<circle cx="311.55" cy="88.5" r="1.45" fill="#111"/>
<circle cx="317.44" cy="88.5" r="1.45" fill="#111"/>
<circle cx="323.32" cy="88.5" r="1.45" fill="#111"/>
<circle cx="329.21" cy="88.5" r="1.45" fill="#111"/>
<circle cx="335.09" cy="88.5" r="1.45" fill="#111"/>
<circle cx="340.98" cy="88.5" r="1.45" fill="#111"/>
<circle cx="346.86" cy="88.5" r="1.45" fill="#111"/>
<circle cx="352.75" cy="88.5" r="1.45" fill="#111"/>
<circle cx="358.63" cy="88.5" r="1.45" fill="#111"/>
<circle cx="364.52" cy="88.5" r="1.45" fill="#111"/>
<circle cx="370.40" cy="88.5" r="1.45" fill="#111"/>
<circle cx="376.29" cy="88.5" r="1.45" fill="#111"/>
<circle cx="382.17" cy="88.5" r="1.45" fill="#111"/>
<circle cx="388.06" cy="88.5" r="1.45" fill="#111"/>
<circle cx="393.94" cy="88.5" r="1.45" fill="#111"/>
<circle cx="399.83" cy="88.5" r="1.45" fill="#111"/>
<circle cx="405.71" cy="88.5" r="1.45" fill="#111"/>
<circle cx="411.60" cy="88.5" r="1.45" fill="#111"/>
<circle cx="417.48" cy="88.5" r="1.45" fill="#111"/>
<circle cx="423.37" cy="88.5" r="1.45" fill="#111"/>
<circle cx="429.25" cy="88.5" r="1.45" fill="#111"/>
<circle cx="435.14" cy="88.5" r="1.45" fill="#111"/>
<circle cx="322.80" cy="383.8" r="1.5" fill="#111"/>
<circle cx="328.78" cy="383.8" r="1.5" fill="#111"/>
<circle cx="334.76" cy="383.8" r="1.5" fill="#111"/>
<circle cx="340.74" cy="383.8" r="1.5" fill="#111"/>
<circle cx="346.72" cy="383.8" r="1.5" fill="#111"/>
<circle cx="352.70" cy="383.8" r="1.5" fill="#111"/>
<circle cx="358.68" cy="383.8" r="1.5" fill="#111"/>
<circle cx="364.66" cy="383.8" r="1.5" fill="#111"/>
<circle cx="370.64" cy="383.8" r="1.5" fill="#111"/>
<circle cx="376.62" cy="383.8" r="1.5" fill="#111"/>
<circle cx="382.60" cy="383.8" r="1.5" fill="#111"/>
<circle cx="388.58" cy="383.8" r="1.5" fill="#111"/>
<circle cx="394.56" cy="383.8" r="1.5" fill="#111"/>
<circle cx="400.54" cy="383.8" r="1.5" fill="#111"/>
<circle cx="406.52" cy="383.8" r="1.5" fill="#111"/>
<circle cx="412.50" cy="383.8" r="1.5" fill="#111"/>
<circle cx="418.48" cy="383.8" r="1.5" fill="#111"/>
<circle cx="424.46" cy="383.8" r="1.5" fill="#111"/>
<circle cx="430.44" cy="383.8" r="1.5" fill="#111"/>
<circle cx="436.42" cy="383.8" r="1.5" fill="#111"/>
<circle cx="442.40" cy="383.8" r="1.5" fill="#111"/>
<circle cx="448.38" cy="383.8" r="1.5" fill="#111"/>
<polygon points="503.6,474.6 568.9,510 653,473.8 679,532.4 679,597 437,597" fill="#000"/>
</svg>
<div class="t k" id="t1" style="left:83.6px;top:70.4px;transform:scaleX(1.02)">OXIDATION PAINT</div>
<div class="t k" id="t2" style="left:115px;top:89.3px;transform:scaleX(0.9995)">BAKING PROCESS</div>
<div class="t k" id="t3" style="left:456px;top:368.3px;transform:scaleX(0.9995)">50% FINE SPACING</div>
<div class="t w" id="t4" style="left:519.6px;top:520.4px;transform:scaleX(0.955)">REMOVING:</div>
<div class="t w" id="t5" style="left:490.4px;top:543px;transform:scaleX(0.922)">TANLES &amp;&nbsp; KNOTS</div>
<div class="t w" id="t6" style="left:485.9px;top:567.2px;transform:scaleX(0.9425)">REDUCE MATTED FUR</div>
</body></html>
